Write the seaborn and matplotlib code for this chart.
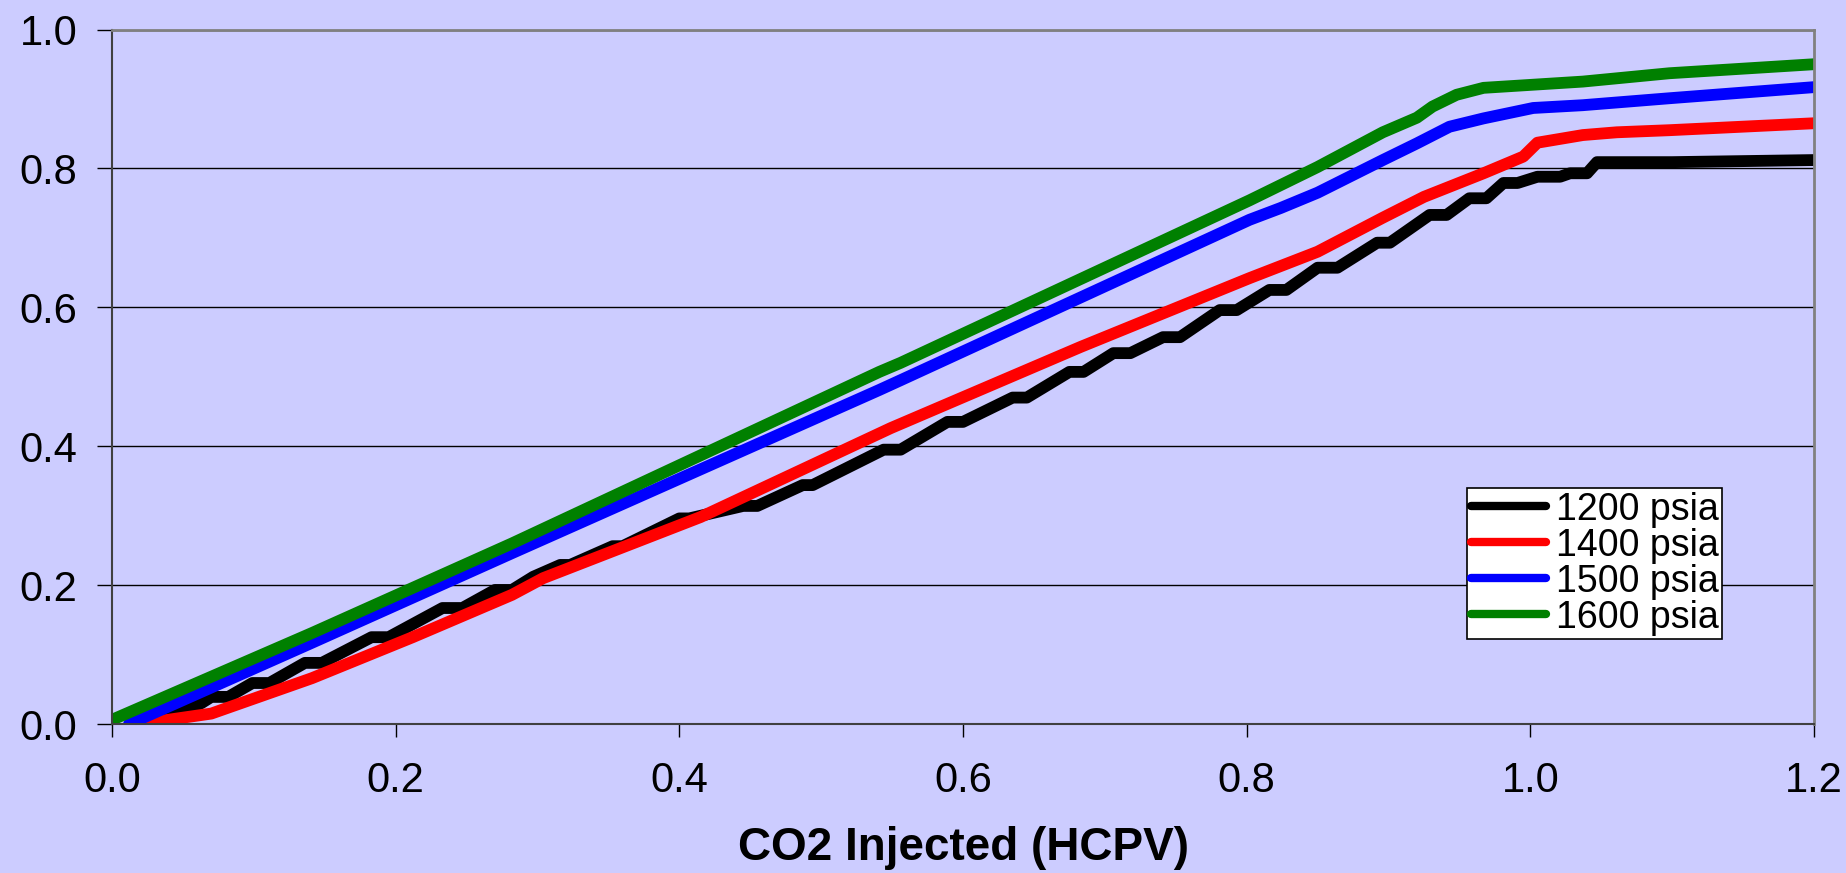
import numpy as np
import pandas as pd
import matplotlib
matplotlib.use("Agg")
import matplotlib.pyplot as plt
import seaborn as sns
from matplotlib.lines import Line2D

# ---- data ----
x_1200 = [0.03, 0.063, 0.070, 0.082, 0.099, 0.111, 0.136, 0.148, 0.183, 0.195,
          0.233, 0.247, 0.270, 0.282, 0.297, 0.316, 0.323, 0.353, 0.360, 0.400,
          0.407, 0.445, 0.455, 0.487, 0.494, 0.544, 0.556, 0.589, 0.600, 0.635,
          0.645, 0.675, 0.685, 0.706, 0.718, 0.741, 0.753, 0.781, 0.793, 0.816,
          0.828, 0.850, 0.864, 0.892, 0.901, 0.929, 0.941, 0.957, 0.969, 0.981,
          0.991, 1.005, 1.021, 1.028, 1.040, 1.047, 1.100, 1.200]
y_1200 = [0.000, 0.030, 0.039, 0.039, 0.059, 0.059, 0.088, 0.088, 0.125, 0.125,
          0.167, 0.167, 0.193, 0.193, 0.212, 0.229, 0.229, 0.256, 0.256, 0.296,
          0.296, 0.314, 0.314, 0.344, 0.344, 0.395, 0.395, 0.435, 0.435, 0.470,
          0.470, 0.507, 0.507, 0.534, 0.534, 0.557, 0.557, 0.596, 0.596, 0.625,
          0.625, 0.657, 0.657, 0.693, 0.693, 0.733, 0.733, 0.757, 0.757, 0.779,
          0.779, 0.788, 0.788, 0.793, 0.793, 0.809, 0.809, 0.812]

x_1400 = [0.019, 0.070, 0.141, 0.212, 0.282, 0.304, 0.415, 0.549, 0.683, 0.802,
          0.850, 0.896, 0.925, 0.967, 0.995, 1.005, 1.037, 1.061, 1.098, 1.200]
y_1400 = [0.000, 0.015, 0.066, 0.125, 0.186, 0.210, 0.298, 0.426, 0.543, 0.642,
          0.680, 0.729, 0.759, 0.793, 0.817, 0.837, 0.848, 0.852, 0.855, 0.865]

x_1500 = [0.012, 0.141, 0.282, 0.541, 0.556, 0.802, 0.824, 0.850, 0.896, 0.920,
          0.943, 0.967, 1.002, 1.037, 1.098, 1.200]
y_1500 = [0.000, 0.117, 0.246, 0.481, 0.495, 0.726, 0.743, 0.765, 0.812, 0.836,
          0.860, 0.872, 0.887, 0.891, 0.901, 0.917]

x_1600 = [0.000, 0.141, 0.282, 0.541, 0.556, 0.802, 0.824, 0.850, 0.896, 0.920,
          0.931, 0.948, 0.967, 1.037, 1.098, 1.200]
y_1600 = [0.006, 0.131, 0.260, 0.507, 0.520, 0.754, 0.776, 0.802, 0.852, 0.873,
          0.889, 0.906, 0.916, 0.925, 0.937, 0.950]

series_labels = ["1200 psia", "1400 psia", "1500 psia", "1600 psia"]
series_colors = ["#000000", "#FF0000", "#0000FF", "#008000"]
x_ticks = [0.0, 0.2, 0.4, 0.6, 0.8, 1.0, 1.2]
y_ticks = [0.0, 0.2, 0.4, 0.6, 0.8, 1.0]
x_label = "CO2 Injected (HCPV)"

xs = [x_1200, x_1400, x_1500, x_1600]
ys = [y_1200, y_1400, y_1500, y_1600]
df = pd.concat([pd.DataFrame({"x": xv, "y": yv, "series": lab})
                for xv, yv, lab in zip(xs, ys, series_labels)], ignore_index=True)

sns.set_theme(style="white")
plt.rcParams["font.family"] = ["Liberation Sans", "DejaVu Sans"]

bg = "#CCCCFF"
fig = plt.figure(figsize=(18.46, 8.73), dpi=100, facecolor=bg)
ax = fig.add_axes([112/1846, 1 - 724/873, (1814-112)/1846, (724-29.5)/873])
ax.set_facecolor(bg)

sns.lineplot(data=df, x="x", y="y", hue="series", hue_order=series_labels,
             palette=dict(zip(series_labels, series_colors)),
             estimator=None, sort=False, linewidth=8.5, ax=ax, legend=False)

ax.set_xlim(0, 1.2)
ax.set_ylim(0, 1.0)
ax.set_xticks(x_ticks)
ax.set_yticks(y_ticks)
ax.set_xticklabels([f"{v:.1f}" for v in x_ticks])
ax.set_yticklabels([f"{v:.1f}" for v in y_ticks])
ax.yaxis.grid(True, color="black", linewidth=1.0)
ax.xaxis.grid(False)
ax.set_axisbelow(True)

ax.tick_params(axis="both", direction="out", colors="black", labelsize=30,
               width=1.0, labelcolor="black")
ax.tick_params(axis="y", length=11, pad=14, left=True)
ax.tick_params(axis="x", length=9, pad=18, bottom=True)

for side in ["left", "bottom"]:
    ax.spines[side].set_color("#404040")
    ax.spines[side].set_linewidth(1.5)
for side in ["top", "right"]:
    ax.spines[side].set_visible(True)
    ax.spines[side].set_color("#808080")
    ax.spines[side].set_linewidth(2.0)

ax.set_xlabel(x_label, fontsize=33, fontweight="bold", labelpad=18, color="black")
ax.set_ylabel("")

handles = [Line2D([0], [0], color=c, linewidth=6) for c in series_colors]
leg = ax.legend(handles, series_labels, loc="upper right",
                bbox_to_anchor=(0.946, 0.340), fontsize=27, frameon=True,
                fancybox=False, framealpha=1, edgecolor="black",
                handlelength=2.0, handletextpad=0.25, labelspacing=0.0,
                borderpad=0.1, borderaxespad=0)
leg.get_frame().set_linewidth(1.2)
leg.get_frame().set_facecolor("white")
for t in leg.get_texts():
    t.set_color("black")

fig.savefig("out.png", dpi=100, facecolor=bg)
